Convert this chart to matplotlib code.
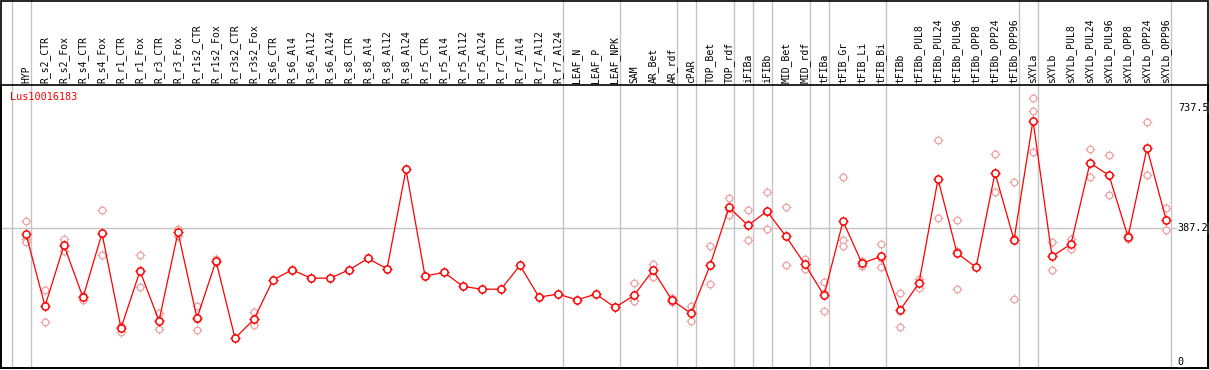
import numpy as np
import matplotlib
matplotlib.use("Agg")
import matplotlib.pyplot as plt
import matplotlib.transforms as mtransforms
from matplotlib.patches import Rectangle

gene = "Lus10016183"

samples = [
    "HYP", "R_s2_CTR", "R_s2_Fox", "R_s4_CTR", "R_s4_Fox", "R_r1_CTR", "R_r1_Fox",
    "R_r3_CTR", "R_r3_Fox", "R_r1s2_CTR", "R_r1s2_Fox", "R_r3s2_CTR", "R_r3s2_Fox",
    "R_s6_CTR", "R_s6_Al4", "R_s6_Al12", "R_s6_Al24", "R_s8_CTR", "R_s8_Al4",
    "R_s8_Al12", "R_s8_Al24", "R_r5_CTR", "R_r5_Al4", "R_r5_Al12", "R_r5_Al24",
    "R_r7_CTR", "R_r7_Al4", "R_r7_Al12", "R_r7_Al24", "LEAF_N", "LEAF_P", "LEAF_NPK",
    "SAM", "AR_Bet", "AR_rdf", "cPAR", "TOP_Bet", "TOP_rdf", "iFIBa", "iFIBb",
    "MID_Bet", "MID_rdf", "tFIBa", "tFIB_Gr", "tFIB_Li", "tFIB_Bi", "tFIBb",
    "tFIBb_PUL8", "tFIBb_PUL24", "tFIBb_PUL96", "tFIBb_OPP8", "tFIBb_OPP24",
    "tFIBb_OPP96", "sXYLa", "sXYLb", "sXYLb_PUL8", "sXYLb_PUL24", "sXYLb_PUL96",
    "sXYLb_OPP8", "sXYLb_OPP24", "sXYLb_OPP96",
]

means = [
    371, 162, 338, 187, 373, 98, 264, 119, 376, 127, 293, 69, 124,
    238, 267, 243, 243, 267, 300, 270, 558, 249, 260, 219, 211,
    211, 280, 188, 197, 180, 197, 158,
    193, 266, 179, 141, 280, 448, 396, 437, 364, 283, 193, 408, 286, 306, 150,
    229, 530, 316, 274, 548, 354, 700, 306, 342, 577, 541, 363, 620, 413,
]

replicates = [
    [408, 356, 349], [208, 162, 115], [356, 336, 322], [180, 190, 192],
    [440, 370, 309], [88, 104, 102], [309, 267, 216], [95, 141, 121],
    [386, 376, 365], [162, 126, 92], [299, 290, 290], [69], [145, 124, 106],
    [238], [267], [243], [243], [267], [300], [270], [558], [249], [260],
    [219], [211], [211], [280], [188], [197], [180], [197], [158],
    [228, 180, 176], [283, 266, 246], [186, 178, 174], [162, 141, 118],
    [335, 280, 225], [475, 443, 425], [440, 396, 353], [492, 434, 385],
    [448, 364, 280], [298, 283, 269], [231, 201, 147], [535, 353, 335],
    [294, 286, 278], [341, 301, 276], [201, 150, 100], [241, 231, 215],
    [643, 530, 416], [413, 322, 213], [274], [602, 548, 492], [521, 358, 183],
    [764, 727, 608], [347, 306, 266], [356, 342, 327], [616, 577, 535],
    [599, 541, 483], [357, 363, 368], [695, 620, 541], [445, 413, 382],
]

# group separators: a grey line is drawn after these sample indices
group_breaks = [-1, 0, 28, 31, 34, 35, 37, 38, 39, 41, 42, 45, 52, 53, 60]

y_ticks = [0, 387.2, 737.5]
ref_level = 387.2

W, H = 1209, 370
fig = plt.figure(figsize=(W / 100, H / 100), dpi=100)
ax = fig.add_axes([1 / W, 2 / H, 1207 / W, 283 / H])

x = np.arange(len(samples))
ax.set_xlim(-1.316, 62.21)
ax.set_ylim(-17.4, 802.9)
ax.set_xticks([])
ax.set_yticks([])
for sp in ax.spines.values():
    sp.set_linewidth(1.2)
    sp.set_color("black")

mono = "DejaVu Sans Mono"
grey = "#c4c4c4"

# separators running up through the label area
for b in group_breaks:
    ax.axvline(b + 0.25, ymin=0, ymax=1.30, color=grey, lw=1.0, clip_on=False, zorder=1)

ax.axhline(ref_level, xmin=0, xmax=0.974, color=grey, lw=1.0, zorder=1)

# replicate values
rx = np.concatenate([[i] * len(r) for i, r in enumerate(replicates)])
ry = np.concatenate(replicates)
ax.plot(rx, ry, ls="none", marker="+", ms=6.5, mew=0.7, color="#f0a0a0", zorder=2)
ax.plot(rx, ry, ls="none", marker="o", ms=4.8, mew=0.9, mfc="white", mec="#f0a0a0", zorder=2)

# mean profile
ax.plot(x, means, color="red", lw=0.9, zorder=3)
ax.plot(x, means, ls="none", marker="+", ms=7, mew=0.8, color="red", zorder=4)
ax.plot(x, means, ls="none", marker="o", ms=5.2, mew=1.1, mfc="white", mec="red", zorder=5)

# column labels above the plot
lbl_tr = mtransforms.blended_transform_factory(ax.transData, ax.transAxes)
for i, s in enumerate(samples):
    ax.text(i, 1.007, s, rotation=90, ha="center", va="bottom", fontsize=7,
            family=mono, transform=lbl_tr, clip_on=False)

# value labels on the right
val_tr = mtransforms.blended_transform_factory(ax.transAxes, ax.transData)
for v in y_ticks:
    ax.text(0.975, v, f"{v:g}", ha="left", va="center", fontsize=7.3, family=mono,
            transform=val_tr, bbox=dict(fc="white", ec="none", pad=0.5))

ax.text(0.0075, 0.958, gene, color="red", fontsize=7.3, family=mono,
        ha="left", va="center", transform=ax.transAxes)

# outer frame around labels and plot
fig.add_artist(Rectangle((1 / W, 2 / H), 1207 / W, 367 / H, transform=fig.transFigure,
                         fill=False, ec="black", lw=1.2))

fig.savefig("out.png", dpi=100)
